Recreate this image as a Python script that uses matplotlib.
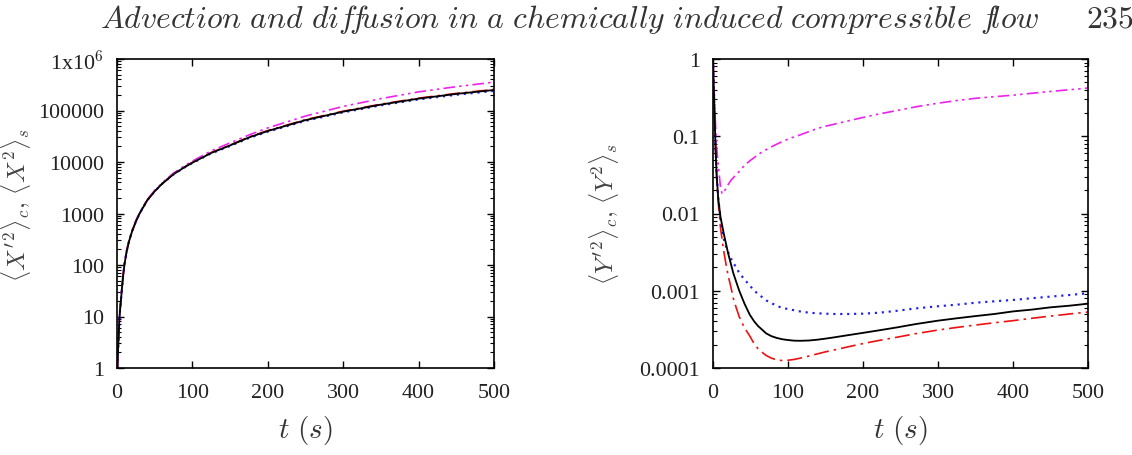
import matplotlib
matplotlib.use("Agg")
import matplotlib.pyplot as plt

plt.rcParams["mathtext.fontset"] = "cm"
plt.rcParams["font.family"] = "Liberation Serif"

# left panel: <X'^2>_c, <X^2>_s vs t
t_x = [0.5, 1, 2, 3, 4, 5, 6, 8, 10, 13, 16, 20, 25, 30, 40, 50, 60, 75, 90, 100,
       125, 150, 175, 200, 250, 300, 350, 400, 450, 500]
x_black = [1.0, 1.6, 3.5, 8, 13, 19, 28, 60, 105, 190, 290, 450, 700, 1000, 1800, 2700, 3800, 5800, 8000, 9700,
           15000, 21000, 30000, 40000, 65000, 95000, 130000, 170000, 210000, 250000]
x_blue = [1.0, 1.6, 3.5, 8, 13, 19, 28, 60, 105, 190, 290, 450, 700, 1000, 1800, 2700, 3800, 5750, 7900, 9550,
          14700, 20500, 29200, 38800, 63000, 92000, 126000, 164000, 202000, 240000]
x_red = [1.0, 1.6, 3.5, 8, 13, 19, 28, 60, 105, 190, 290, 450, 700, 1000, 1800, 2700, 3800, 5850, 8100, 9850,
         15300, 21400, 30600, 40800, 66500, 97000, 133000, 174000, 215000, 256000]
x_mag = [1.0, 1.7, 3.8, 8.5, 14, 20, 30, 63, 110, 200, 305, 470, 730, 1040, 1870, 2800, 3950, 6100, 8500, 10400,
         16500, 23500, 33500, 46000, 78000, 120000, 170000, 230000, 290000, 355000]

# right panel: <Y'^2>_c, <Y^2>_s vs t
t_y = [0, 1, 2, 3, 4, 5, 7, 10, 12, 14, 17, 20, 24, 27, 31, 35, 42, 49, 55, 60, 66, 71, 78, 85, 92,
       100, 108, 116, 128, 140, 150, 160, 180, 200, 222, 245, 270, 300, 325, 350, 375, 400, 425, 450, 475, 500]
y_black = [1.0, 0.45, 0.2, 0.095, 0.05, 0.03, 0.0155, 0.009, 0.0072, 0.0057, 0.0042, 0.0031, 0.0022, 0.0017,
           0.0013, 0.001, 0.00068, 0.00049, 0.0004, 0.00035, 0.00031, 0.00028, 0.000258, 0.000245, 0.000236,
           0.00023, 0.000226, 0.000225, 0.000227, 0.000233, 0.00024, 0.000248, 0.000266, 0.000285, 0.000308,
           0.000335, 0.00037, 0.00041, 0.00044, 0.00047, 0.0005, 0.00054, 0.00057, 0.00061, 0.00064, 0.00068]
y_blue = [1.0, 0.45, 0.2, 0.095, 0.05, 0.03, 0.016, 0.0085, 0.0062, 0.0048, 0.0038, 0.0032, 0.0026, 0.0023,
          0.002, 0.0017, 0.0014, 0.00117, 0.001, 0.00091, 0.00082, 0.00075, 0.00069, 0.00064, 0.0006,
          0.00058, 0.00056, 0.00054, 0.00052, 0.00051, 0.000505, 0.0005, 0.0005, 0.000505, 0.00052,
          0.00055, 0.00059, 0.00063, 0.00066, 0.0007, 0.00073, 0.00076, 0.0008, 0.00084, 0.00088, 0.00093]
y_red = [1.0, 0.45, 0.2, 0.09, 0.045, 0.027, 0.014, 0.0065, 0.0047, 0.0034, 0.0023, 0.0016, 0.0011, 0.0008,
         0.0006, 0.00046, 0.00033, 0.00026, 0.000205, 0.000178, 0.000158, 0.000145, 0.000134, 0.000127, 0.000125,
         0.000126, 0.000129, 0.000134, 0.000143, 0.000153, 0.000162, 0.00017, 0.000188, 0.000207, 0.000228,
         0.00025, 0.000278, 0.00031, 0.000335, 0.00036, 0.000385, 0.00041, 0.00044, 0.00047, 0.0005, 0.00053]
y_mag = [1.0, 0.55, 0.3, 0.17, 0.1, 0.07, 0.042, 0.022, 0.018, 0.0185, 0.021, 0.0235, 0.027, 0.029,
         0.032, 0.035, 0.042, 0.048, 0.053, 0.058, 0.063, 0.067, 0.073, 0.079, 0.085,
         0.092, 0.098, 0.104, 0.115, 0.127, 0.135, 0.142, 0.158, 0.175, 0.195,
         0.215, 0.24, 0.268, 0.29, 0.31, 0.325, 0.34, 0.36, 0.38, 0.40, 0.42]

x_ticks = [0, 100, 200, 300, 400, 500]
left_yticks = [1, 10, 100, 1000, 10000, 100000, 1000000]
left_ylabels = ["1", "10", "100", "1000", "10000", "100000", r"1x10$^6$"]
right_yticks = [0.0001, 0.001, 0.01, 0.1, 1]
right_ylabels = ["0.0001", "0.001", "0.01", "0.1", "1"]

lw = 1.2
styles = {
    "black": dict(color="black", lw=lw * 1.1, ls="-"),
    "blue": dict(color="#2020ee", lw=lw * 1.3, ls=(0, (1, 2.2))),
    "red": dict(color="#ee1111", lw=lw, ls=(0, (9, 3, 1.5, 3))),
    "mag": dict(color="#ee22ee", lw=lw, ls=(0, (7, 2.5, 1.5, 2.5, 1.5, 2.5))),
}

fig = plt.figure(figsize=(11.32, 4.56), dpi=100)
ax1 = fig.add_axes([117 / 1132, 87 / 456, 377 / 1132, 309 / 456])
ax2 = fig.add_axes([713 / 1132, 87 / 456, 375 / 1132, 309 / 456])


def style_axis(ax):
    ax.set_yscale("log")
    ax.set_xlim(0, 500)
    ax.set_xticks(x_ticks)
    ax.set_xticklabels([str(v) for v in x_ticks])
    for s in ax.spines.values():
        s.set_linewidth(1.2)
    ax.tick_params(which="both", direction="in", top=True, right=True, labelsize=15.8, labelcolor="#222222")
    ax.tick_params(which="major", length=5, width=1)
    ax.tick_params(which="minor", length=3, width=0.8)
    ax.tick_params(axis="x", pad=11)
    ax.tick_params(axis="y", pad=9.5)


ax1.plot(t_x, x_red, **styles["red"])
ax1.plot(t_x, x_blue, **styles["blue"])
ax1.plot(t_x, x_mag, **styles["mag"])
ax1.plot(t_x, x_black, **styles["black"])
style_axis(ax1)
ax1.set_ylim(1, 1e6)
ax1.set_yticks(left_yticks)
ax1.set_yticklabels(left_ylabels)
ax1.set_xlabel(r"$t\ (s)$", fontsize=21, labelpad=8, color="#333333")
ax1.set_ylabel(r"$\langle X'^2\rangle_c,\,\langle X^2\rangle_s$", fontsize=17.5, color="#444444")
ax1.yaxis.set_label_coords(-0.222, 0.53)

ax2.plot(t_y, y_red, **styles["red"])
ax2.plot(t_y, y_blue, **styles["blue"])
ax2.plot(t_y, y_mag, **styles["mag"])
ax2.plot(t_y, y_black, **styles["black"])
style_axis(ax2)
ax2.set_ylim(1e-4, 1)
ax2.set_yticks(right_yticks)
ax2.set_yticklabels(right_ylabels)
ax2.set_xlabel(r"$t\ (s)$", fontsize=21, labelpad=8, color="#333333")
ax2.set_ylabel(r"$\langle Y'^2\rangle_c,\,\langle Y^2\rangle_s$", fontsize=17.5, color="#444444")
ax2.yaxis.set_label_coords(-0.245, 0.5)

fig.text(100 / 1132, 1 - 28 / 456,
         r"$\mathit{Advection\ and\ dif\!f\!usion\ in\ a\ chemically\ induced\ compressible\ f\!low}$",
         fontsize=22.8, color="#333333", ha="left", va="baseline")
fig.text(1086 / 1132, 1 - 28 / 456, r"$\mathrm{235}$", fontsize=22.8, color="#333333", ha="left", va="baseline")

fig.savefig("out.png", dpi=100)
